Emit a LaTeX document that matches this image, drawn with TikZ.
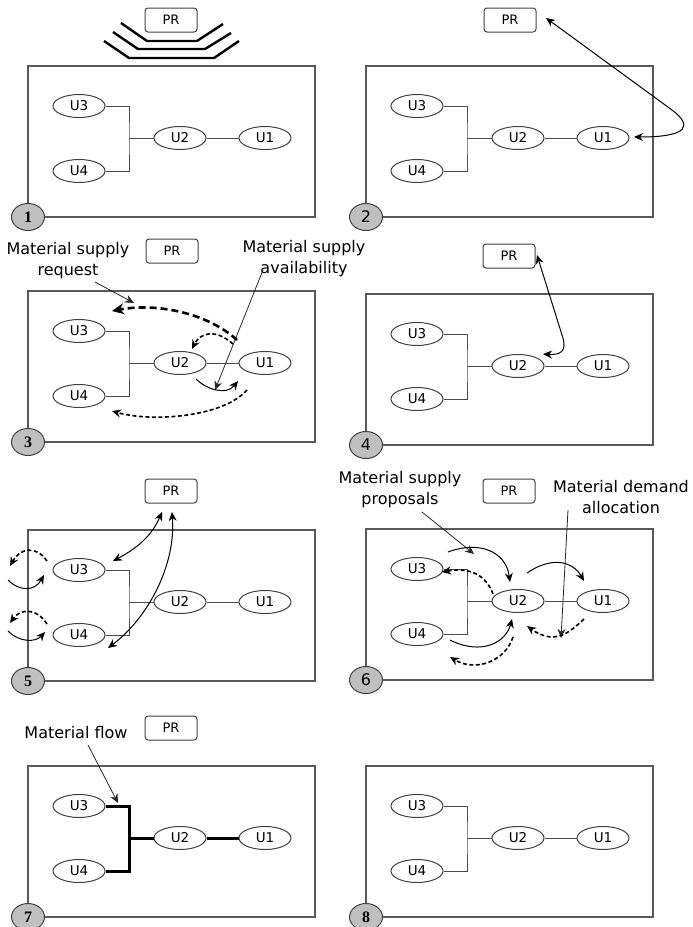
\documentclass[tikz,border=0pt]{standalone}
\usepackage{fontspec}
\setmainfont{DejaVu Sans}
\newfontfamily\numfont{Liberation Serif}
\usetikzlibrary{arrows.meta,shapes.geometric}
\tikzset{
 frame/.style={draw=black!65,line width=1.1pt},
 unit/.style={ellipse,draw=black!75,line width=1pt,minimum width=52pt,minimum height=23pt,inner sep=0pt,fill=white,font=\fontsize{13.5}{15}\selectfont},
 link/.style={draw=black!70,line width=1pt},
 boldlink/.style={draw=black,line width=3pt},
 prbox/.style={draw=black!75,rounded corners=3pt,line width=1pt,minimum width=52pt,minimum height=24pt,inner sep=0pt,font=\fontsize{13}{15}\selectfont},
 numdot/.style={ellipse,draw=black!75,fill=black!25,line width=1pt,minimum width=33pt,minimum height=27pt,inner sep=0pt,font=\fontsize{16}{16}\selectfont},
 lbl/.style={align=center,font=\fontsize{16}{21}\selectfont,inner sep=0pt},
 >={Stealth[length=9pt,width=8pt]},
 pointer/.style={draw=black!85,line width=0.8pt,->},
 solidarc/.style={draw=black,line width=1pt},
 dashmed/.style={draw=black,line width=1.6pt,dash pattern=on 4pt off 2.5pt},
 dashthick/.style={draw=black,line width=2.6pt,dash pattern=on 7pt off 4pt},
 chevron/.style={draw=black,line width=2.4pt}
}
\newcommand\mypanel[6]{%
\begin{scope}[shift={(#1,#2)}]
 \draw[frame] (0,0) rectangle (287,151);
 \node[unit] (#3u3) at (51,40) {U3};
 \node[unit] (#3u4) at (51,105) {U4};
 \node[unit] (#3u2) at (152,72) {U2};
 \node[unit] (#3u1) at (237,72) {U1};
 \coordinate (#3j) at (101,72);
 \draw[#5] (#3u3.east) -| (#3j) |- (#3u4.east);
 \draw[#5] (#3j) -- (#3u2.west);
 \draw[#5] (#3u2.east) -- (#3u1.west);
 \node[numdot] (#3n) at (0,151) {#6};
\end{scope}}
\begin{document}
\begin{tikzpicture}[x=1pt,y=-1pt]
\useasboundingbox (0,0) rectangle (693,927);
% panels
\mypanel{28}{66}{a}{}{link}{\numfont\bfseries 1}
\mypanel{366}{66}{b}{}{link}{2}
\mypanel{28}{291}{c}{}{link}{\numfont\bfseries 3}
\mypanel{366}{294}{d}{}{link}{4}
\mypanel{28}{530}{e}{}{link}{\numfont\bfseries 5}
\mypanel{366}{529}{f}{}{link}{6}
\mypanel{28}{766}{g}{}{boldlink}{\numfont\bfseries 7}
\mypanel{366}{766}{h}{}{link}{\numfont\bfseries 8}
% PR boxes
\node[prbox] (apr) at (171,20) {PR};
\node[prbox] (bpr) at (510,20) {PR};
\node[prbox] (cpr) at (172,251) {PR};
\node[prbox] (dpr) at (509,256) {PR};
\node[prbox] (epr) at (171,491) {PR};
\node[prbox] (fpr) at (509,491) {PR};
\node[prbox] (gpr) at (171,728) {PR};
% panel 1: broadcast chevrons
\draw[chevron] (121,23) -- (147,41) -- (197,41) -- (223,24);
\draw[chevron] (113,32) -- (138,49) -- (205,49) -- (231,33);
\draw[chevron] (104,41) -- (129,58) -- (214,58) -- (239,41);
% panel 2
\coordinate (b1) at (546,18);
\coordinate (b2) at (634,137);
\draw[solidarc,<->] (b1) -- (672,110) .. controls (692,125) and (690,137) .. (b2);
% panel 3
\node[lbl] (cl1) at (68,261) {Material supply\\request};
\node[lbl] (cl2) at (304,259) {Material supply\\availability};
\coordinate (c1s) at (95,282); \coordinate (c1e) at (134,303);
\draw[pointer] (c1s) -- (c1e);
\coordinate (c2s) at (263,270); \coordinate (c2e) at (215,390);
\draw[pointer] (c2s) -- (c2e);
\coordinate (c3s) at (237,340); \coordinate (c3e) at (112,311);
\draw[dashthick,-{Stealth[length=12pt,width=11pt]}] (c3s) .. controls (210,315) and (160,302) .. (c3e);
\coordinate (c4s) at (233,344); \coordinate (c4e) at (192,349);
\draw[dashmed,->] (c4s) .. controls (215,328) and (200,333) .. (c4e);
\coordinate (c5s) at (196,379); \coordinate (c5e) at (238,381);
\draw[solidarc,->] (c5s) .. controls (206,389) and (226,396) .. (c5e);
\coordinate (c6s) at (247,390); \coordinate (c6e) at (112,411);
\draw[dashmed,->] (c6s) .. controls (222,418) and (150,422) .. (c6e);
% panel 4
\coordinate (d1) at (537,255);
\coordinate (d2) at (543,354);
\draw[solidarc,<->] (d1) -- (562,335) .. controls (568,352) and (560,355) .. (d2);
% panel 5
\coordinate (e1s) at (162,512); \coordinate (e1e) at (113,561);
\draw[solidarc,<->] (e1s) .. controls (150,540) and (130,552) .. (e1e);
\coordinate (e2s) at (172,512); \coordinate (e2e) at (108,648);
\draw[solidarc,<->] (e2s) .. controls (176,565) and (148,618) .. (e2e);
\coordinate (e3s) at (47,561); \coordinate (e3e) at (10,566);
\draw[dashmed,->] (e3s) .. controls (36,545) and (20,548) .. (e3e);
\coordinate (e4s) at (8,580); \coordinate (e4e) at (44,575);
\draw[solidarc,->] (e4s) .. controls (20,592) and (35,591) .. (e4e);
\coordinate (e5s) at (47,624); \coordinate (e5e) at (10,623);
\draw[dashmed,->] (e5s) .. controls (36,607) and (20,609) .. (e5e);
\coordinate (e6s) at (8,631); \coordinate (e6e) at (45,632);
\draw[solidarc,->] (e6s) .. controls (20,643) and (36,642) .. (e6e);
% panel 6
\node[lbl] (fl1) at (400,490) {Material supply\\proposals};
\node[lbl] (fl2) at (621,497) {Material demand\\allocation};
\coordinate (f1s) at (422,512); \coordinate (f1e) at (474,554);
\draw[pointer] (f1s) -- (f1e);
\coordinate (f2s) at (568,510); \coordinate (f2e) at (561,638);
\draw[pointer] (f2s) -- (f2e);
\coordinate (f3s) at (448,552); \coordinate (f3e) at (510,582);
\draw[solidarc,->] (f3s) .. controls (480,540) and (506,552) .. (f3e);
\coordinate (f4s) at (493,594); \coordinate (f4e) at (442,572);
\draw[dashmed,->] (f4s) .. controls (486,575) and (470,567) .. (f4e);
\coordinate (f5s) at (527,573); \coordinate (f5e) at (584,581);
\draw[solidarc,->] (f5s) .. controls (550,557) and (572,560) .. (f5e);
\coordinate (f6s) at (584,619); \coordinate (f6e) at (527,626);
\draw[dashmed,->] (f6s) .. controls (570,632) and (555,646) .. (f6e);
\coordinate (f7s) at (450,640); \coordinate (f7e) at (512,619);
\draw[solidarc,->] (f7s) .. controls (482,656) and (506,642) .. (f7e);
\coordinate (f8s) at (513,637); \coordinate (f8e) at (450,657);
\draw[dashmed,->] (f8s) .. controls (505,662) and (475,672) .. (f8e);
% panel 7
\node[lbl] (gl1) at (76,733) {Material flow};
\coordinate (g1s) at (88,745); \coordinate (g1e) at (118,803);
\draw[pointer] (g1s) -- (g1e);
\end{tikzpicture}
\end{document}
